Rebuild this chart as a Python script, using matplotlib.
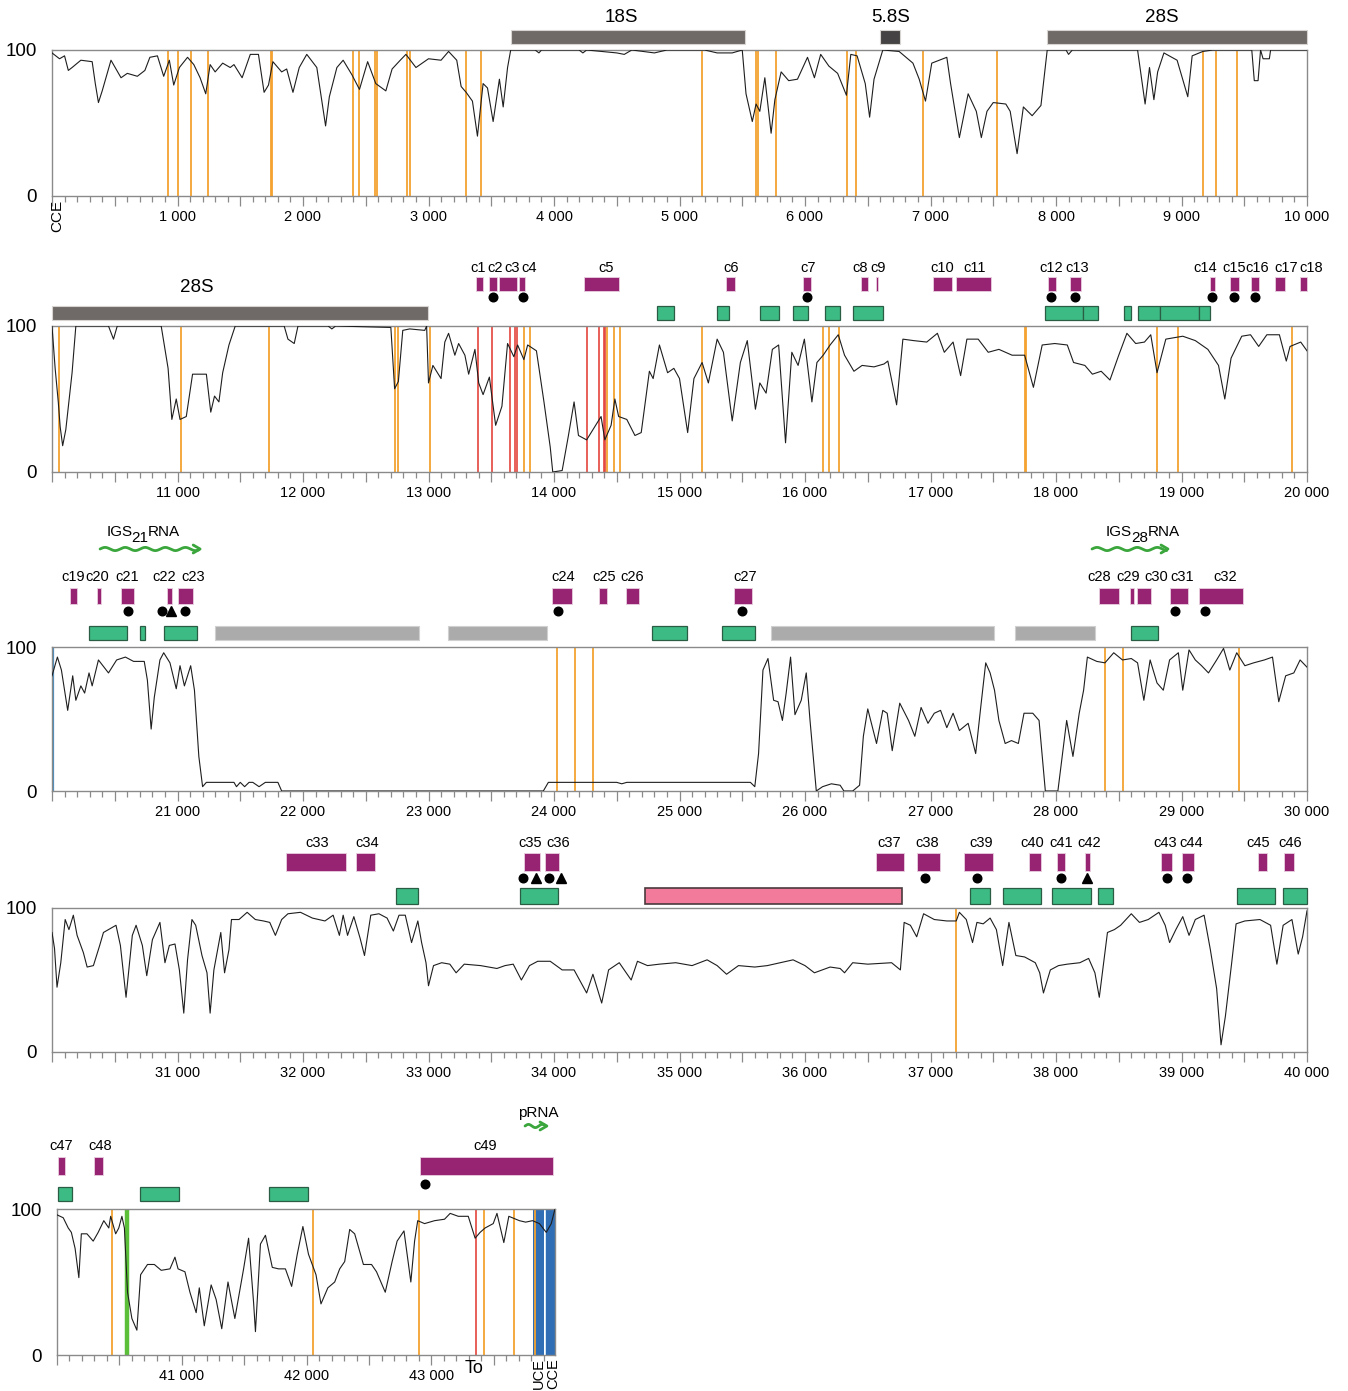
import numpy as np
import matplotlib
matplotlib.use('Agg')
import matplotlib.pyplot as plt
from matplotlib.patches import Rectangle
from matplotlib.ticker import MultipleLocator, FuncFormatter
import matplotlib.transforms as mtransforms

plt.rcParams['font.family'] = ['Liberation Sans', 'DejaVu Sans']

# ---- trace (position bp, % value), one list per row ----
trace1 = [(0, 98), (60, 94), (100, 96), (130, 86), (160, 88), (230, 93), (320, 92), (345, 77), (370, 64),
          (400, 72), (470, 93), (550, 81), (600, 84), (680, 82), (740, 86), (780, 95), (840, 96), (890, 82),
          (935, 93), (970, 76), (1015, 88), (1080, 95), (1130, 90), (1180, 81), (1225, 70), (1260, 90),
          (1300, 85), (1360, 91), (1420, 88), (1450, 90), (1515, 81), (1580, 97), (1645, 97), (1690, 71),
          (1725, 76), (1760, 92), (1830, 85), (1870, 87), (1920, 71), (1970, 88), (2030, 97), (2110, 88),
          (2180, 48), (2210, 68), (2270, 88), (2320, 93), (2390, 83), (2450, 73), (2515, 92), (2580, 77),
          (2660, 72), (2710, 87), (2775, 93), (2820, 97), (2900, 88), (3000, 94), (3100, 93), (3160, 99),
          (3225, 93), (3260, 75), (3300, 71), (3350, 65), (3390, 41), (3435, 77), (3470, 74), (3515, 51),
          (3565, 80), (3595, 61), (3630, 88), (3655, 100), (3850, 100), (3880, 98), (3900, 100), (4200, 100),
          (4230, 98), (4260, 100), (4500, 98), (4560, 97), (4620, 100), (4800, 98), (4900, 100), (5200, 100),
          (5300, 98), (5420, 98), (5500, 100), (5530, 70), (5580, 51), (5610, 63), (5640, 58), (5680, 81),
          (5730, 43), (5760, 66), (5810, 85), (5870, 79), (5940, 80), (6020, 95), (6075, 81), (6125, 97),
          (6190, 89), (6260, 84), (6330, 69), (6365, 97), (6415, 96), (6480, 77), (6515, 54), (6550, 80),
          (6620, 100), (6750, 99), (6860, 91), (6910, 80), (6960, 65), (7010, 91), (7130, 95), (7160, 77),
          (7230, 40), (7300, 70), (7365, 58), (7405, 40), (7450, 58), (7500, 64), (7600, 63), (7635, 58),
          (7690, 29), (7740, 61), (7810, 55), (7880, 62), (7930, 100), (8080, 100), (8100, 97), (8130, 100),
          (8650, 100), (8710, 63), (8745, 88), (8780, 66), (8810, 85), (8860, 98), (8965, 93), (9050, 68),
          (9085, 96), (9170, 99), (9250, 100), (9560, 100), (9580, 79), (9610, 79), (9630, 100), (9650, 94),
          (9700, 94), (9710, 100), (10000, 100)]

trace2 = [(10000, 100), (10025, 71), (10050, 48), (10065, 31), (10085, 18), (10110, 29), (10160, 68),
          (10190, 100), (10450, 100), (10490, 91), (10520, 100), (10870, 100), (10925, 71), (10955, 36),
          (10990, 50), (11020, 36), (11070, 38), (11120, 67), (11230, 67), (11265, 41), (11295, 52),
          (11330, 48), (11360, 68), (11410, 87), (11460, 100), (11850, 100), (11880, 91), (11930, 88),
          (11960, 100), (12200, 100), (12230, 98), (12260, 100), (12700, 99), (12730, 57), (12760, 62),
          (12795, 97), (12850, 98), (12970, 97), (12985, 100), (13000, 61), (13035, 73), (13100, 64),
          (13130, 89), (13160, 95), (13210, 80), (13240, 88), (13290, 80), (13320, 67), (13370, 84),
          (13400, 61), (13435, 53), (13485, 65), (13535, 32), (13585, 45), (13630, 88), (13680, 79),
          (13710, 87), (13760, 77), (13790, 87), (13860, 83), (13920, 48), (13970, 17), (13990, 0),
          (14065, 1), (14115, 25), (14160, 48), (14195, 25), (14260, 22), (14325, 31), (14375, 38),
          (14405, 22), (14455, 32), (14485, 50), (14515, 38), (14580, 36), (14645, 25), (14695, 27),
          (14760, 69), (14790, 64), (14840, 87), (14905, 68), (14955, 71), (15000, 64), (15065, 27),
          (15115, 64), (15180, 75), (15230, 61), (15300, 91), (15350, 82), (15420, 35), (15485, 75),
          (15540, 90), (15605, 43), (15640, 61), (15690, 54), (15740, 84), (15790, 87), (15845, 20),
          (15895, 82), (15945, 73), (15995, 91), (16055, 48), (16095, 75), (16145, 80), (16200, 87),
          (16265, 94), (16315, 80), (16390, 69), (16455, 73), (16550, 72), (16630, 74), (16660, 76),
          (16730, 46), (16780, 91), (16865, 90), (16970, 89), (17055, 95), (17110, 82), (17180, 89),
          (17240, 66), (17290, 91), (17380, 91), (17460, 82), (17545, 84), (17650, 80), (17750, 80),
          (17820, 58), (17890, 87), (17990, 88), (18090, 87), (18140, 75), (18230, 73), (18290, 67),
          (18360, 69), (18430, 63), (18500, 80), (18565, 95), (18635, 88), (18705, 89), (18755, 94),
          (18805, 68), (18875, 91), (19010, 93), (19110, 90), (19210, 84), (19295, 73), (19345, 50),
          (19395, 78), (19480, 93), (19550, 94), (19615, 86), (19680, 94), (19780, 94), (19835, 76),
          (19865, 86), (19950, 89), (20000, 83)]

trace3 = [(20000, 80), (20043, 93), (20075, 84), (20125, 56), (20165, 80), (20190, 63), (20230, 73),
          (20260, 68), (20295, 82), (20320, 73), (20370, 91), (20450, 82), (20515, 91), (20585, 93),
          (20650, 90), (20735, 90), (20760, 77), (20790, 43), (20815, 65), (20860, 91), (20890, 96),
          (20940, 89), (20990, 71), (21020, 87), (21055, 73), (21105, 87), (21135, 70), (21170, 24),
          (21200, 3), (21230, 6), (21450, 6), (21470, 3), (21500, 6), (21535, 3), (21570, 6), (21600, 6),
          (21650, 3), (21700, 6), (21800, 6), (21830, 0), (23915, 0), (23955, 6), (24500, 6), (24540, 5),
          (24580, 6), (25565, 6), (25600, 3), (25630, 26), (25665, 84), (25705, 92), (25750, 63),
          (25785, 62), (25820, 49), (25850, 68), (25885, 93), (25920, 53), (25970, 63), (26010, 82),
          (26040, 49), (26090, 0), (26140, 3), (26210, 5), (26280, 4), (26310, 0), (26380, 0), (26435, 4),
          (26465, 38), (26500, 57), (26570, 33), (26620, 56), (26655, 54), (26695, 28), (26755, 61),
          (26825, 49), (26875, 38), (26925, 58), (26980, 47), (27030, 54), (27080, 56), (27130, 44),
          (27180, 54), (27230, 42), (27300, 47), (27360, 26), (27400, 58), (27440, 89), (27475, 82),
          (27510, 70), (27545, 49), (27595, 33), (27645, 35), (27700, 33), (27745, 54), (27815, 54),
          (27865, 49), (27915, 0), (28015, 0), (28085, 49), (28135, 24), (28185, 54), (28220, 70),
          (28250, 93), (28325, 90), (28390, 89), (28460, 96), (28530, 91), (28600, 92), (28650, 89),
          (28700, 63), (28750, 91), (28805, 75), (28855, 70), (28905, 91), (28975, 96), (29010, 70),
          (29060, 98), (29110, 91), (29160, 87), (29215, 82), (29280, 91), (29335, 99), (29385, 84),
          (29440, 96), (29505, 87), (29575, 89), (29660, 91), (29725, 93), (29775, 62), (29830, 80),
          (29895, 82), (29945, 91), (30000, 86)]

trace4 = [(30000, 83), (30020, 72), (30040, 45), (30070, 62), (30105, 92), (30135, 85), (30170, 95),
          (30200, 81), (30250, 69), (30280, 59), (30330, 60), (30380, 74), (30410, 83), (30510, 88),
          (30545, 74), (30590, 38), (30640, 81), (30670, 88), (30720, 74), (30755, 53), (30800, 78),
          (30860, 90), (30900, 62), (30935, 74), (30980, 75), (31015, 57), (31050, 27), (31080, 64),
          (31115, 92), (31145, 88), (31195, 67), (31235, 55), (31260, 27), (31290, 57), (31345, 83),
          (31375, 55), (31410, 71), (31430, 92), (31490, 92), (31555, 97), (31620, 92), (31685, 91),
          (31735, 90), (31780, 81), (31830, 92), (31880, 96), (31980, 97), (32075, 93), (32175, 91),
          (32240, 95), (32290, 81), (32320, 95), (32355, 81), (32405, 94), (32455, 79), (32490, 67),
          (32540, 95), (32605, 96), (32670, 93), (32720, 84), (32765, 95), (32815, 95), (32865, 76),
          (32915, 91), (32945, 76), (32980, 62), (33000, 46), (33040, 60), (33105, 62), (33170, 61),
          (33220, 55), (33285, 61), (33415, 60), (33545, 58), (33610, 60), (33675, 61), (33740, 50),
          (33805, 60), (33870, 63), (33970, 63), (34065, 57), (34160, 57), (34260, 41), (34310, 54),
          (34380, 34), (34435, 57), (34520, 62), (34615, 50), (34665, 63), (34745, 60), (34840, 61),
          (34970, 62), (35100, 60), (35220, 64), (35300, 60), (35375, 54), (35470, 60), (35600, 59),
          (35700, 60), (35905, 64), (36000, 60), (36075, 55), (36200, 59), (36280, 58), (36315, 55),
          (36380, 62), (36500, 61), (36690, 62), (36760, 57), (36790, 90), (36840, 88), (36890, 80),
          (36945, 96), (37030, 92), (37130, 91), (37205, 91), (37230, 97), (37285, 92), (37335, 76),
          (37370, 90), (37420, 89), (37475, 93), (37525, 85), (37575, 60), (37625, 90), (37680, 67),
          (37750, 66), (37835, 62), (37870, 55), (37900, 41), (37955, 57), (38020, 60), (38090, 61),
          (38190, 62), (38260, 65), (38310, 55), (38345, 38), (38380, 62), (38410, 83), (38465, 85),
          (38515, 88), (38600, 96), (38665, 90), (38735, 92), (38820, 97), (38870, 88), (38905, 76),
          (38955, 85), (39010, 94), (39060, 81), (39110, 92), (39180, 95), (39230, 71), (39280, 44),
          (39315, 5), (39350, 25), (39400, 62), (39435, 89), (39505, 91), (39625, 92), (39710, 88),
          (39760, 61), (39810, 88), (39880, 92), (39930, 68), (39965, 80), (40000, 98)]

trace5 = [(40000, 96), (40050, 94), (40090, 87), (40115, 84), (40145, 73), (40175, 53), (40195, 83),
          (40240, 83), (40290, 78), (40330, 84), (40375, 92), (40415, 87), (40430, 95), (40470, 83),
          (40495, 87), (40520, 95), (40540, 87), (40565, 43), (40600, 25), (40640, 17), (40670, 55),
          (40725, 62), (40780, 62), (40835, 58), (40905, 59), (40945, 67), (40970, 59), (41025, 57),
          (41065, 43), (41115, 29), (41140, 46), (41180, 20), (41235, 48), (41275, 38), (41320, 18),
          (41370, 50), (41425, 25), (41495, 59), (41535, 80), (41575, 36), (41590, 16), (41630, 76),
          (41670, 82), (41725, 60), (41775, 59), (41830, 59), (41880, 47), (41925, 69), (41970, 88),
          (42015, 69), (42075, 55), (42115, 35), (42170, 46), (42225, 50), (42265, 59), (42305, 64),
          (42345, 86), (42385, 83), (42455, 62), (42520, 62), (42560, 57), (42630, 43), (42685, 64),
          (42725, 78), (42780, 85), (42835, 50), (42865, 78), (42890, 92), (42945, 90), (43025, 92),
          (43105, 93), (43150, 97), (43215, 95), (43295, 95), (43350, 80), (43390, 84), (43430, 87),
          (43495, 90), (43525, 97), (43580, 77), (43620, 95), (43705, 92), (43755, 91), (43810, 92),
          (43865, 90), (43920, 84), (43960, 90), (43990, 100)]

# ---- annotation tracks ----
rrna = [("18S", 3657, 5522, "#6f6967"), ("5.8S", 6600, 6755, "#454343"), ("28S", 7930, 12996, "#6f6967")]
rrna_labels = [("18S", 4540), ("5.8S", 6680), ("28S", 8840), ("28S", 11150)]

repeats = [("c1", 13380, 13435, 13394), ("c2", 13480, 13545, 13530), ("c3", 13560, 13705, 13665),
           ("c4", 13720, 13770, 13801), ("c5", 14240, 14520, 14414), ("c6", 15370, 15446, 15410),
           ("c7", 15985, 16050, 16024), ("c8", 16450, 16505, 16438), ("c9", 16562, 16580, 16582),
           ("c10", 17020, 17175, 17092), ("c11", 17200, 17480, 17355), ("c12", 17935, 17998, 17960),
           ("c13", 18112, 18196, 18167), ("c14", 19230, 19268, 19187), ("c15", 19390, 19457, 19418),
           ("c16", 19552, 19617, 19602), ("c17", 19746, 19825, 19833), ("c18", 19948, 20000, 20032),
           ("c19", 20142, 20200, 20167), ("c20", 20356, 20388, 20359), ("c21", 20550, 20650, 20598),
           ("c22", 20915, 20960, 20892), ("c23", 21000, 21122, 21124), ("c24", 23982, 24146, 24072),
           ("c25", 24358, 24425, 24398), ("c26", 24572, 24676, 24622), ("c27", 25438, 25574, 25522),
           ("c28", 28344, 28504, 28343), ("c29", 28590, 28618, 28574), ("c30", 28642, 28754, 28797),
           ("c31", 28908, 29051, 29004), ("c32", 29143, 29492, 29347), ("c33", 31865, 32340, 32112),
           ("c34", 32426, 32576, 32510), ("c35", 33760, 33885, 33809), ("c36", 33925, 34038, 34032),
           ("c37", 36565, 36785, 36669), ("c38", 36894, 37072, 36972), ("c39", 37263, 37498, 37402),
           ("c40", 37782, 37877, 37809), ("c41", 38010, 38075, 38040), ("c42", 38232, 38270, 38263),
           ("c43", 38840, 38925, 38869), ("c44", 39000, 39096, 39076), ("c45", 39608, 39683, 39610),
           ("c46", 39816, 39898, 39865), ("c47", 40005, 40065, 40032), ("c48", 40296, 40366, 40345),
           ("c49", 42910, 43975, 43429)]

dots = [13515, 13752, 16012, 17960, 18150, 19240, 19418, 19582, 20603, 20876, 21058, 24032, 25497,
        28950, 29188, 33756, 33959, 36958, 37368, 38041, 38882, 39044, 42950]
triangles = [20952, 33854, 34054, 38250]

green_boxes = [(14821, 14956), (15296, 15395), (15644, 15794), (15905, 16020), (16162, 16280), (16385, 16625),
               (17912, 18213), (18213, 18338), (18543, 18598), (18656, 18826), (18826, 19143), (19143, 19231),
               (20298, 20595), (20698, 20744), (20889, 21152), (24782, 25062), (25336, 25603), (28599, 28814),
               (32738, 32920), (33727, 34034), (37312, 37478), (37574, 37878), (37968, 38277), (38336, 38455),
               (39444, 39746), (39812, 40000), (40005, 40118), (40665, 40975), (41695, 42010)]
grey_boxes = [(21296, 22926), (23152, 23947), (25732, 27502), (27676, 28307)]
pink_boxes = [(34722, 36770)]

orange_lines = [925, 1005, 1110, 1240, 1745, 1752, 2400, 2450, 2577, 2587, 2830, 2850, 3300, 3420,
                5178, 5612, 5629, 5765, 6333, 6410, 6938, 7531, 9171, 9275, 9441,
                10057, 11028, 11732, 12733, 12758, 13012, 13763, 13811, 14420, 14478, 14527,
                15183, 16144, 16195, 16270, 17754, 17760, 18807, 18976, 19877,
                24024, 24167, 24311, 28390, 28534, 29458, 37205,
                40440, 42055, 42900, 43420, 43660, 43830]
red_lines = [13395, 13505, 13650, 13690, 13705, 14265, 14360, 14395, 14408, 43355]
green_lines = [40560]

# (name, subscript, after, start, end, anchor of subscript)
waves = [("IGS", "21", "RNA", 20383, 21180, 20640), ("IGS", "28", "RNA", 28287, 28892, 28605),
         ("pRNA", "", "", 43750, 43925, 43854)]

# ---- layout (pixels of the 1348x1391 canvas) ----
W, H = 1348, 1391
panels = [
    dict(x0=0, x1=10000, box=(52, 1307, 50, 196), trace=trace1,
         lv=dict(rrna=(6, 20), rlabel=33)),
    dict(x0=10000, x1=20000, box=(52, 1307, 326, 472), trace=trace2,
         lv=dict(rrna=(6, 20), rlabel=39, green=(6, 20), mark=29, purple=(35, 49), label=58)),
    dict(x0=20000, x1=30000, box=(52, 1307, 647, 791), trace=trace3,
         lv=dict(green=(7, 21), mark=36, purple=(43, 59), label=70, wave=98, wlabel=115)),
    dict(x0=30000, x1=40000, box=(52, 1307, 908, 1052), trace=trace4,
         lv=dict(green=(4, 20), mark=30, purple=(37, 55), label=65)),
    dict(x0=40000, x1=43990, box=(57, 555, 1209, 1355), trace=trace5,
         lv=dict(green=(8, 22), mark=25, purple=(34, 52), label=63, wave=83, wlabel=96)),
]

ORANGE = "#f5a230"
RED = "#e4443c"
PURPLE = "#962472"
GREEN = "#3dbb84"
GREEN_EDGE = "#2b5d45"
WAVE_GREEN = "#3aa63c"
BLUE = "#2f6db4"

fig = plt.figure(figsize=(W / 100, H / 100), dpi=100)


def fmt_factory(x0):
    def f(v, pos):
        if v % 1000 == 0 and v > x0:
            return f"{int(v):,}".replace(",", " ")
        return ""
    return f


def clip(s, e, x0, x1):
    return max(s, x0), min(e, x1)


for p in panels:
    l, r, t, b = p['box']
    ax = fig.add_axes([l / W, 1 - b / H, (r - l) / W, (b - t) / H])
    x0, x1 = p['x0'], p['x1']
    unit = 100.0 / (b - t)
    lv = p['lv']

    def yy(px):
        return 100 + px * unit

    xs = [q[0] for q in p['trace']]
    ys = [q[1] for q in p['trace']]
    ax.plot(xs, ys, color="#1e1e1e", lw=0.8, zorder=5)

    for v in orange_lines:
        if x0 <= v <= x1:
            ax.axvline(v, color=ORANGE, lw=1.3, zorder=2)
    for v in red_lines:
        if x0 <= v <= x1:
            ax.axvline(v, color=RED, lw=1.2, zorder=2)
    for v in green_lines:
        if x0 <= v <= x1:
            ax.axvline(v, color="#5cbf3a", lw=3.2, zorder=2)

    if x0 == 20000:
        ax.axvline(20008, color="#4a8fc4", lw=1.6, zorder=2)
    if x0 == 40000:
        ax.axvspan(43810, 43990, color=BLUE, zorder=1, lw=0)
        ax.axvspan(43900, 43918, color="#cfe6f7", zorder=1, lw=0)
        ax.axvspan(43905, 43913, color="white", zorder=1, lw=0)

    ax.set_xlim(x0, x1)
    ax.set_ylim(0, 100)

    # rRNA genes
    if 'rrna' in lv:
        y0, y1 = lv['rrna']
        for name, s, e, c in rrna:
            s2, e2 = clip(s, e, x0, x1)
            if e2 > s2:
                ax.add_patch(Rectangle((s2, yy(y0)), e2 - s2, (y1 - y0) * unit, facecolor=c,
                                       edgecolor="#d8d4d2", lw=0.8, clip_on=False))
        for name, xpos in rrna_labels:
            if x0 < xpos < x1:
                ax.text(xpos, yy(lv['rlabel']), name, ha='center', va='center', fontsize=13.5, clip_on=False)

    # boxes of the feature track
    if 'green' in lv:
        g0, g1 = lv['green']
        for s, e in green_boxes:
            s2, e2 = clip(s, e, x0, x1)
            if e2 > s2:
                ax.add_patch(Rectangle((s2, yy(g0)), e2 - s2, (g1 - g0) * unit, facecolor=GREEN,
                                       edgecolor=GREEN_EDGE, lw=0.9, clip_on=False))
        for s, e in grey_boxes:
            s2, e2 = clip(s, e, x0, x1)
            if e2 > s2:
                ax.add_patch(Rectangle((s2, yy(g0)), e2 - s2, (g1 - g0) * unit, facecolor="#ababab",
                                       edgecolor="#d0d0d0", lw=0.8, clip_on=False))
        for s, e in pink_boxes:
            s2, e2 = clip(s, e, x0, x1)
            if e2 > s2:
                ax.add_patch(Rectangle((s2, yy(g0)), e2 - s2, (g1 - g0) * unit, facecolor="#f27a9b",
                                       edgecolor="#4a3a3d", lw=1.2, clip_on=False))

    # repeats c1..c49
    if 'purple' in lv:
        q0, q1 = lv['purple']
        for name, s, e, lx in repeats:
            s2, e2 = clip(s, e, x0, x1)
            if e2 > s2:
                ax.add_patch(Rectangle((s2, yy(q0)), e2 - s2, (q1 - q0) * unit, facecolor=PURPLE,
                                       edgecolor="#e8cfe0", lw=0.6, clip_on=False))
            if x0 <= lx <= x1 + 60 and x0 <= s < x1:
                ax.text(lx, yy(lv['label']), name, ha='center', va='center', fontsize=10.5, clip_on=False)
        mx = [d for d in dots if x0 <= d <= x1]
        ax.plot(mx, [yy(lv['mark'])] * len(mx), 'o', color='black', ms=6.2, clip_on=False)
        tx = [d for d in triangles if x0 <= d <= x1]
        ax.plot(tx, [yy(lv['mark'])] * len(tx), '^', color='black', ms=6.5, clip_on=False)

    # wavy transcript arrows
    if 'wave' in lv:
        for name, sub, after, s, e, lx in waves:
            if x0 <= s < x1:
                span = e - s
                period = 160 if span > 300 else 110
                amp = 1.6 * unit
                wx = np.linspace(s, e - 10, 200)
                wy = yy(lv['wave']) + amp * np.sin(2 * np.pi * (wx - s) / period)
                ax.plot(wx, wy, color=WAVE_GREEN, lw=2.0, clip_on=False, solid_capstyle='round')
                ax.plot([e - 55, e, e - 55], [yy(lv['wave']) + 4 * unit, yy(lv['wave']), yy(lv['wave']) - 4 * unit],
                        color=WAVE_GREEN, lw=2.0, clip_on=False, solid_capstyle='round')
                wy0 = yy(lv['wlabel'])
                if sub:
                    ax.annotate(name, (lx, wy0), xytext=(0, 0), textcoords='offset points',
                                ha='right', va='center', fontsize=11, annotation_clip=False)
                    ax.annotate(sub, (lx, wy0), xytext=(-0.8, -4.5), textcoords='offset points',
                                ha='left', va='center', fontsize=11, annotation_clip=False)
                    ax.annotate(after, (lx, wy0), xytext=(11.3, 0), textcoords='offset points',
                                ha='left', va='center', fontsize=11, annotation_clip=False)
                else:
                    ax.text(lx, wy0, name, ha='center', va='center', fontsize=11, clip_on=False)

    # axes styling
    for sp in ax.spines.values():
        sp.set_color("#8a8a8a")
        sp.set_linewidth(1.0)
    ax.xaxis.set_major_locator(MultipleLocator(500))
    ax.xaxis.set_minor_locator(MultipleLocator(100))
    ax.xaxis.set_major_formatter(FuncFormatter(fmt_factory(x0)))
    ax.tick_params(axis='x', which='major', length=7, width=0.9, color="#8a8a8a", labelsize=10.5, pad=3)
    ax.tick_params(axis='x', which='minor', length=4, width=0.9, color="#8a8a8a")
    ax.set_yticks([0, 100])
    ax.set_yticklabels(['0', '100'])
    ax.tick_params(axis='y', length=0, labelsize=13.5, pad=11)

    trans = mtransforms.blended_transform_factory(ax.transData, ax.transAxes)
    if x0 == 0:
        ax.text(40, -0.025, "CCE", rotation=90, ha='center', va='top', fontsize=11, transform=trans)
    if x0 == 40000:
        ax.text(43858, -0.02, "UCE", rotation=90, ha='center', va='top', fontsize=10.5, transform=trans)
        ax.text(43972, -0.02, "CCE", rotation=90, ha='center', va='top', fontsize=10.5, transform=trans)
        ax.text(43341, -0.09, "To", ha='center', va='center', fontsize=13, transform=trans)

fig.savefig("out.png", dpi=100)
